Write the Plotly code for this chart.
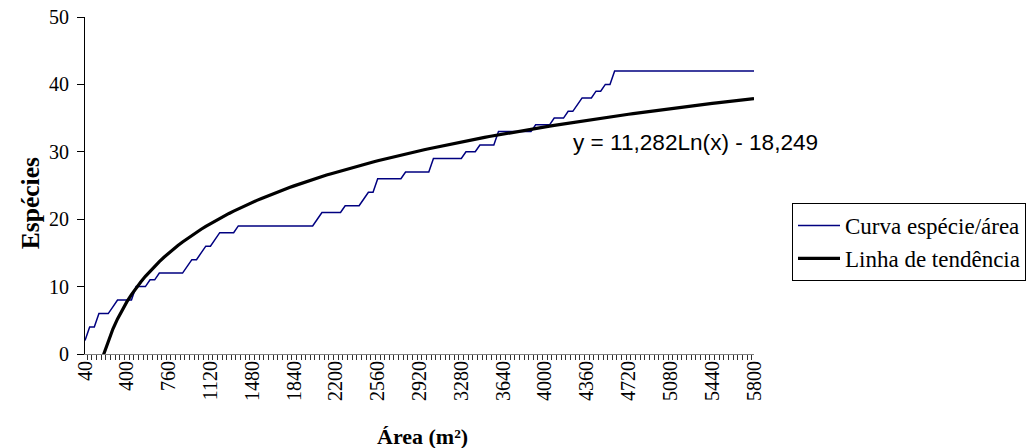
import numpy as np
import plotly.graph_objects as go

# ---------------- data ----------------
area_m2 = list(range(40, 5801, 40))          # category axis: sampled area (m²)

species = [
    2, 4, 4, 6, 6, 6, 7, 8, 8, 8, 8, 10, 10, 10, 11, 11,
    12, 12, 12, 12, 12, 12, 13, 14, 14, 15, 16, 16, 17,
    18, 18, 18, 18,
    19, 19, 19, 19, 19, 19, 19, 19, 19, 19, 19, 19, 19, 19, 19, 19, 19,
    20, 21, 21, 21, 21, 21, 22, 22, 22, 22, 23, 24, 24,
    26, 26, 26, 26, 26, 26, 27, 27, 27, 27, 27, 27,
    29, 29, 29, 29, 29, 29, 29, 30, 30, 30, 31, 31, 31, 31,
    33, 33, 33, 33, 33, 33, 33, 33, 34, 34, 34, 34, 35, 35, 35,
    36, 36, 37, 38, 38, 38, 39, 39, 40, 40,
    42, 42, 42, 42, 42, 42, 42, 42, 42, 42, 42, 42, 42, 42, 42, 42,
    42, 42, 42, 42, 42, 42, 42, 42, 42, 42, 42, 42, 42, 42, 42,
]
assert len(species) == len(area_m2)

# logarithmic trendline shown on the chart: y = 11,282 Ln(x) - 18,249 (x = category number)
trend_a = 11.282
trend_b = -18.249
trend = [trend_a * np.log(k + 1) + trend_b for k in range(len(area_m2))]

label_step = 9
categories = [str(a) for a in area_m2]
tick_text = [c if k % label_step == 0 else "" for k, c in enumerate(categories)]

SERIF = "Liberation Serif, Times New Roman, serif"
SANS = "Liberation Sans, Arial, sans-serif"

fig = go.Figure()
fig.add_trace(go.Scatter(
    x=categories, y=species, mode="lines", name="Curva espécie/área",
    line=dict(color="#000080", width=1.5),
))
fig.add_trace(go.Scatter(
    x=categories, y=trend, mode="lines", name="Linha de tendência",
    line=dict(color="#000000", width=3.2),
))

fig.update_layout(
    width=1027, height=448, autosize=False,
    margin=dict(l=85, r=273, t=17, b=94),
    paper_bgcolor="white", plot_bgcolor="white",
    font=dict(family=SERIF, size=20, color="black"),
    showlegend=True,
    legend=dict(
        xref="container", x=792 / 1027, y=0.448, xanchor="left", yanchor="top",
        bgcolor="white", bordercolor="black", borderwidth=1,
        font=dict(family=SERIF, size=23, color="black"),
        itemwidth=42,
    ),
)

fig.update_xaxes(
    type="category", automargin=False,
    tickmode="array", tickvals=categories, ticktext=tick_text,
    tickson="boundaries", ticks="outside", ticklen=5, tickcolor="#303030",
    tickangle=-90, tickfont=dict(family=SERIF, size=20, color="black"),
    ticklabelstandoff=-2,
    showline=True, linecolor="#808080", linewidth=1,
    showgrid=False, zeroline=False,
)
fig.update_yaxes(
    range=[0, 50], tickmode="linear", tick0=0, dtick=10, automargin=False,
    ticks="outside", ticklen=7, tickcolor="black", ticklabelstandoff=4,
    tickfont=dict(family=SERIF, size=20, color="black"),
    showline=True, linecolor="black", linewidth=1,
    showgrid=False, zeroline=False,
)

fig.add_annotation(
    text="y = 11,282Ln(x) - 18,249", xref="paper", yref="paper",
    x=0.9125, y=0.628, xanchor="center", yanchor="middle", showarrow=False,
    font=dict(family=SANS, size=22.6, color="black"),
)
fig.add_annotation(
    text="<b>Espécies</b>", xref="paper", yref="paper",
    x=-0.082, y=0.448, xanchor="center", yanchor="middle", showarrow=False,
    textangle=-90, font=dict(family=SERIF, size=25.5, color="black"),
)
fig.add_annotation(
    text="<b>Área (m²)</b>", xref="paper", yref="paper",
    x=0.505, y=-0.246, xanchor="center", yanchor="middle", showarrow=False,
    font=dict(family=SERIF, size=22, color="black"),
)

fig.write_html(
    "out.html",
    config={"displayModeBar": False},
    post_script="document.body.style.margin='0';document.body.style.overflow='hidden';",
)
